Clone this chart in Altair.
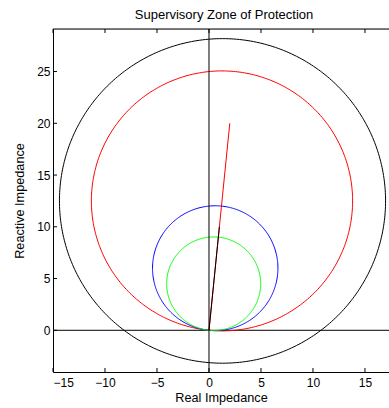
import numpy as np
import pandas as pd
import altair as alt

# ---- data ----
circle_names = ["outer", "zone3", "zone2", "zone1"]
circle_cx = [1.3, 1.25, 0.6, 0.45]
circle_cy = [12.5, 12.5, 6.0, 4.5]
circle_r = [15.68, 12.56, 6.03, 4.52]
circle_colors = ["#000000", "#ff0000", "#0000ff", "#00ff00"]

seg_names = ["impedance", "load"]
seg_x0 = [0, 0]
seg_y0 = [0, 0]
seg_x1 = [2.0, 1.0]
seg_y1 = [20.0, 10.0]
seg_colors = ["#ff0000", "#000000"]

x_ticks = [-15, -10, -5, 0, 5, 10, 15]
y_ticks = [0, 5, 10, 15, 20, 25]
x_domain = [-15, 17.31]
y_domain = [-4.03, 29.11]

W, H = 336, 343

# ---- build tables ----
ang = np.linspace(0, 2 * np.pi, 361)
rows = []
for n, cx, cy, r in zip(circle_names, circle_cx, circle_cy, circle_r):
    for i, a in enumerate(ang):
        rows.append({"name": n, "i": i, "x": cx + r * np.cos(a), "y": cy + r * np.sin(a)})
circ_df = pd.DataFrame(rows)

seg_rows = []
for n, x0, y0, x1, y1 in zip(seg_names, seg_x0, seg_y0, seg_x1, seg_y1):
    seg_rows.append({"name": n, "i": 0, "x": x0, "y": y0})
    seg_rows.append({"name": n, "i": 1, "x": x1, "y": y1})
seg_df = pd.DataFrame(seg_rows)

xt_df = pd.DataFrame({"v": x_ticks})
yt_df = pd.DataFrame({"v": y_ticks})

xs = alt.Scale(domain=x_domain, nice=False, zero=False)
ys = alt.Scale(domain=y_domain, nice=False, zero=False)

xaxis = alt.Axis(values=x_ticks, title="Real Impedance", grid=False, tickSize=0,
                 labelPadding=5, domainColor="#000000", labelColor="#000000",
                 labelFont="Liberation Sans", labelFontSize=12,
                 titleFont="Liberation Sans", titleFontSize=12.7, titleFontWeight="normal",
                 titlePadding=3, titleColor="#000000")
yaxis = alt.Axis(values=y_ticks, title="Reactive Impedance", grid=False, tickSize=0,
                 labelPadding=3, domainColor="#000000", labelColor="#000000",
                 labelFont="Liberation Sans", labelFontSize=12,
                 titleFont="Liberation Sans", titleFontSize=12.7, titleFontWeight="normal",
                 titlePadding=10, titleColor="#000000")

color_scale = alt.Scale(domain=circle_names + seg_names, range=circle_colors + seg_colors)

base_axes = alt.Chart(circ_df).mark_line(opacity=0).encode(
    x=alt.X("x:Q", scale=xs, axis=xaxis),
    y=alt.Y("y:Q", scale=ys, axis=yaxis),
    detail="name:N",
)

hline = alt.Chart(pd.DataFrame({"v": [0]})).mark_rule(color="#000000", strokeWidth=1).encode(
    y=alt.Y("v:Q", scale=ys), x=alt.value(0), x2=alt.value(W)
)
vline = alt.Chart(pd.DataFrame({"v": [0]})).mark_rule(color="#000000", strokeWidth=1).encode(
    x=alt.X("v:Q", scale=xs), y=alt.value(0), y2=alt.value(H)
)

circles = alt.Chart(circ_df).mark_line(strokeWidth=1, clip=True).encode(
    x=alt.X("x:Q", scale=xs),
    y=alt.Y("y:Q", scale=ys),
    color=alt.Color("name:N", scale=color_scale, legend=None),
    order="i:Q",
    detail="name:N",
)

segs = alt.Chart(seg_df).mark_line(strokeWidth=1, clip=True).encode(
    x=alt.X("x:Q", scale=xs),
    y=alt.Y("y:Q", scale=ys),
    color=alt.Color("name:N", scale=color_scale, legend=None),
    order="i:Q",
    detail="name:N",
)

top_spine = alt.Chart(pd.DataFrame({"v": [0]})).mark_rule(color="#000000").encode(
    x=alt.value(0), x2=alt.value(W + 2), y=alt.value(0)
)
xt_bottom = alt.Chart(xt_df).mark_rule(color="#000000").encode(
    x=alt.X("v:Q", scale=xs), y=alt.value(H), y2=alt.value(H - 4)
)
xt_top = alt.Chart(xt_df).mark_rule(color="#000000").encode(
    x=alt.X("v:Q", scale=xs), y=alt.value(0), y2=alt.value(4)
)
yt_left = alt.Chart(yt_df).mark_rule(color="#000000").encode(
    y=alt.Y("v:Q", scale=ys), x=alt.value(0), x2=alt.value(4)
)

chart = alt.layer(
    base_axes, hline, circles, vline, segs, top_spine, xt_bottom, xt_top, yt_left
).properties(
    width=W, height=H,
    title=alt.TitleParams("Supervisory Zone of Protection", font="Liberation Sans",
                          fontSize=13, fontWeight="normal", color="#000000",
                          anchor="middle", offset=7, dx=3),
    autosize=alt.AutoSizeParams(type="none"),
    padding={"left": 53, "top": 29, "right": 0, "bottom": 36},
).configure_view(stroke=None).configure(background="#ffffff")

chart.save("out.html", embed_options={"renderer": "svg", "actions": False})
